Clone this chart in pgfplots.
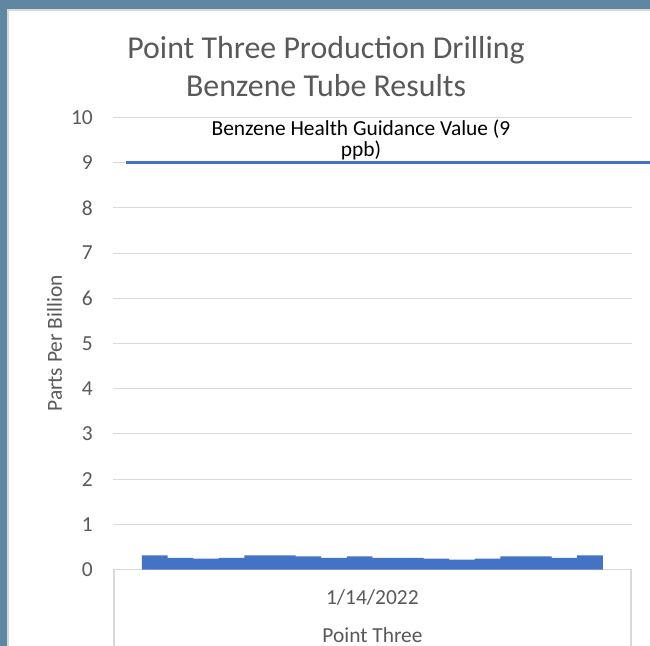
\documentclass[border=0pt]{standalone}
\usepackage{fontspec}
\setmainfont{Carlito}
\usepackage{pgfplots}
\usepackage{pgfplotstable}
\pgfplotsset{compat=1.18}
\definecolor{framec}{HTML}{5F87A2}
\definecolor{gridc}{HTML}{D9D9D9}
\definecolor{txt}{HTML}{595959}
\definecolor{barc}{HTML}{4472C4}
\pgfplotstableread{
idx val
1 0.31
2 0.26
3 0.24
4 0.26
5 0.31
6 0.31
7 0.29
8 0.26
9 0.29
10 0.26
11 0.26
12 0.24
13 0.22
14 0.24
15 0.29
16 0.29
17 0.26
18 0.31
}\datatable
\begin{document}
\begin{tikzpicture}
\useasboundingbox (0,0) rectangle (650bp,-646bp);
\fill[framec] (0,0) rectangle (650bp,-646bp);
\fill[white] (7bp,-9bp) rectangle (650bp,-646bp);
\draw[gridc, line width=1.5bp] (7.75bp,-646bp) -- (7.75bp,-9.75bp) -- (650bp,-9.75bp);
\node[text=txt, font=\fontsize{32}{36}\selectfont, anchor=base, inner sep=0pt] at (326bp,-58bp) {Point Three Production Drilling};
\node[text=txt, font=\fontsize{32}{36}\selectfont, anchor=base, inner sep=0pt] at (326bp,-96bp) {Benzene Tube Results};
\begin{axis}[
  at={(113bp,-569.5bp)}, anchor=south west,
  scale only axis, width=519bp, height=452bp,
  xmin=-0.63, xmax=19.64, ymin=0, ymax=10,
  ytick={0,1,...,10},
  xtick={9.5}, xticklabels={1/14/2022},
  axis lines=left,
  axis line style={-},
  x axis line style={draw=gridc, line width=1.5bp},
  y axis line style={draw=none},
  major tick length=0pt,
  ymajorgrids, grid style={draw=gridc, line width=1bp},
  tick label style={font=\fontsize{21.5}{24}\selectfont, text=txt},
  /pgf/number format/assume math mode=true,
  yticklabel style={anchor=east, inner sep=0pt, xshift=-20bp},
  xticklabel style={anchor=center, yshift=-28.5bp},
  xlabel={Point Three}, ylabel={Parts Per Billion},
  label style={font=\fontsize{21.5}{24}\selectfont, text=txt},
  xlabel style={at={(axis description cs:0.5,-0.146)}, anchor=center},
  ylabel style={at={(axis description cs:-0.1127,0.5)}, anchor=center},
  clip=false,
]
\addplot[ybar, bar width=1, fill=barc, draw=none] table[x=idx, y=val] {\datatable};
\addplot[barc, line width=3bp] coordinates {(-0.12,9) (20.35,9)};
\end{axis}
\draw[gridc, line width=1.5bp] (113.75bp,-569.5bp) -- (113.75bp,-646bp);
\draw[gridc, line width=1.5bp] (631bp,-569.5bp) -- (631bp,-646bp);
\node[text=black, font=\fontsize{21.5}{24}\selectfont, anchor=base, inner sep=0pt] at (361bp,-135bp) {Benzene Health Guidance Value (9};
\node[text=black, font=\fontsize{21.5}{24}\selectfont, anchor=base, inner sep=0pt] at (361bp,-156.5bp) {ppb)};
\end{tikzpicture}
\end{document}
